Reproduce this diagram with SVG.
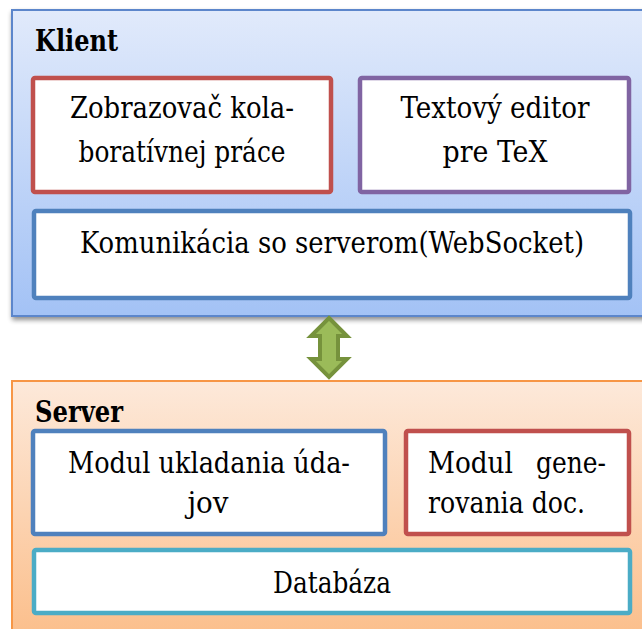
<svg xmlns="http://www.w3.org/2000/svg" width="642" height="629" viewBox="0 0 642 629">
  <defs>
    <linearGradient id="gradClient" x1="0" y1="0" x2="0" y2="1">
      <stop offset="0" stop-color="#e1eafb"/>
      <stop offset="1" stop-color="#a3c2f5"/>
    </linearGradient>
    <linearGradient id="gradServer" x1="0" y1="0" x2="0" y2="1">
      <stop offset="0" stop-color="#fde9da"/>
      <stop offset="1" stop-color="#fbbe8a"/>
    </linearGradient>
    <filter id="shadow" x="-5%" y="-5%" width="115%" height="115%">
      <feGaussianBlur in="SourceAlpha" stdDeviation="2.5"/>
      <feOffset dx="1" dy="3" result="b"/>
      <feComponentTransfer><feFuncA type="linear" slope="0.45"/></feComponentTransfer>
      <feMerge><feMergeNode/><feMergeNode in="SourceGraphic"/></feMerge>
    </filter>
  </defs>
  <style>
    .panel-client { fill: url(#gradClient); stroke: #5b86cb; stroke-width: 2; }
    .panel-server { fill: url(#gradServer); stroke: #f79646; stroke-width: 2; }
    .box { fill: #ffffff; stroke-width: 4.5; }
    .red { stroke: #c0504d; }
    .purple { stroke: #8064a2; }
    .blue { stroke: #4f81bd; }
    .teal { stroke: #4bacc6; }
    text { font-family: 'DejaVu Serif Condensed', 'DejaVu Serif', serif; fill: #000; }
    .title { font-weight: bold; font-size: 29px; }
    .label { font-size: 29px; }
    .mid { text-anchor: middle; }
    .arrow { fill: #9bbb59; stroke: #76923c; stroke-width: 4; stroke-linejoin: miter; }
  </style>

  <!-- Client tier -->
  <g id="client">
    <rect class="panel-client" x="12" y="10" width="640" height="306" filter="url(#shadow)"/>
    <text class="title" x="35" y="51" textLength="83" lengthAdjust="spacingAndGlyphs">Klient</text>
  </g>
  <g id="viewer">
    <rect class="box red" x="33" y="78" width="298" height="114" rx="2"/>
    <text class="label mid" x="182" y="118" textLength="224" lengthAdjust="spacingAndGlyphs">Zobrazovač kola-</text>
    <text class="label mid" x="182" y="162" textLength="207" lengthAdjust="spacingAndGlyphs">boratívnej práce</text>
  </g>
  <g id="editor">
    <rect class="box purple" x="360" y="78" width="269" height="114" rx="2"/>
    <text class="label mid" x="495" y="118" textLength="189" lengthAdjust="spacingAndGlyphs">Textový editor</text>
    <text class="label mid" x="495" y="162" textLength="105" lengthAdjust="spacingAndGlyphs">pre TeX</text>
  </g>
  <g id="communication">
    <rect class="box blue" x="34" y="211" width="596" height="87" rx="2"/>
    <text class="label mid" x="332" y="253" textLength="504" lengthAdjust="spacingAndGlyphs">Komunikácia so serverom(WebSocket)</text>
  </g>

  <!-- Server tier -->
  <g id="server">
    <rect class="panel-server" x="12" y="381" width="640" height="260"/>
    <text class="title" x="35" y="422" textLength="88" lengthAdjust="spacingAndGlyphs">Server</text>
  </g>
  <g id="storage">
    <rect class="box blue" x="33" y="431" width="352" height="103" rx="2"/>
    <text class="label mid" x="209" y="473" textLength="282" lengthAdjust="spacingAndGlyphs">Modul ukladania úda-</text>
    <text class="label mid" x="208" y="513" textLength="41" lengthAdjust="spacingAndGlyphs">jov</text>
  </g>
  <g id="generator">
    <rect class="box red" x="406" y="431" width="223" height="103" rx="2"/>
    <text class="label" x="428" y="473" textLength="85" lengthAdjust="spacingAndGlyphs">Modul</text>
    <text class="label" x="606" y="473" text-anchor="end" textLength="70" lengthAdjust="spacingAndGlyphs">gene-</text>
    <text class="label" x="428" y="513" textLength="157" lengthAdjust="spacingAndGlyphs">rovania doc.</text>
  </g>
  <g id="database">
    <rect class="box teal" x="34" y="550" width="596" height="63" rx="2"/>
    <text class="label mid" x="332" y="593" textLength="118" lengthAdjust="spacingAndGlyphs">Databáza</text>
  </g>

  <!-- Connectors -->
  <g id="connectors">
    <polygon class="arrow" points="329,318 347,336 338,336 338,359 347,359 329,377 311,359 320,359 320,336 311,336"/>
  </g>
</svg>
